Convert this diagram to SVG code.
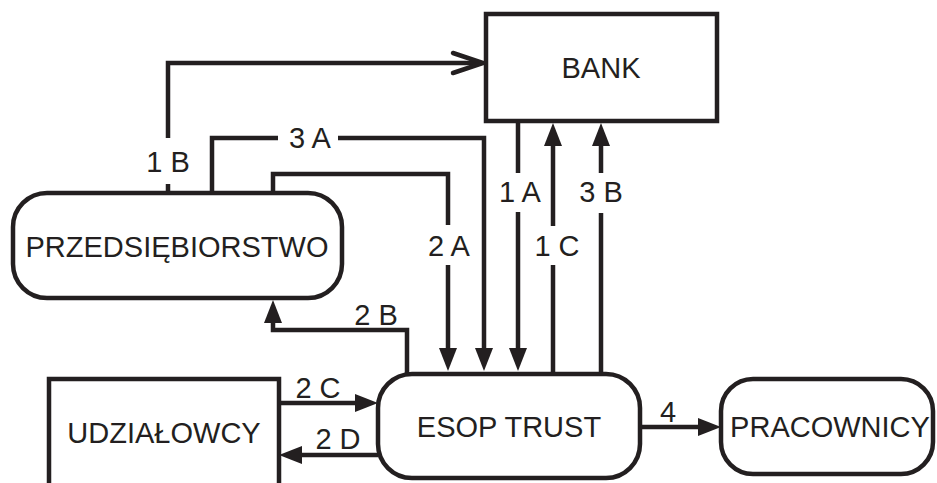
<svg xmlns="http://www.w3.org/2000/svg" width="937" height="483" viewBox="0 0 937 483">
<defs>
<style>
.node{fill:#fff;stroke:#231f20;stroke-width:4.5}
.lbl{font-family:"Liberation Sans",Arial,sans-serif;font-size:29px;fill:#231f20;text-anchor:middle}
.el{font-family:"Liberation Sans",Arial,sans-serif;font-size:29px;fill:#231f20;text-anchor:middle}
.c{fill:none;stroke:#231f20;stroke-width:4.5;stroke-linejoin:miter}
</style>
<marker id="ah" markerUnits="userSpaceOnUse" markerWidth="24" markerHeight="20" refX="0" refY="9" orient="auto" viewBox="0 0 24 18" overflow="visible">
<path d="M0,0 L23,9 L0,18 z" fill="#231f20"/>
</marker>
</defs>
<rect width="937" height="483" fill="#fff"/>
<g id="connectors">
<path class="c" d="M168,193 V184 M168,138 V63 H481"/>
<polyline class="c" points="453,53 483,63 453,73" stroke-linecap="round" stroke-linejoin="round"/>
<path class="c" d="M212,193 V138 H278 M338,138 H484 V348" marker-end="url(#ah)"/>
<path class="c" d="M273,193 V174 H448 V225 M448,265 V348" marker-end="url(#ah)"/>
<path class="c" d="M518,121 V173 M518,212 V348" marker-end="url(#ah)"/>
<path class="c" d="M553,374 V265 M553,226 V146" marker-end="url(#ah)"/>
<path class="c" d="M601,374 V213 M601,173 V146" marker-end="url(#ah)"/>
<path class="c" d="M407,374 V330 H273 V323" marker-end="url(#ah)"/>
<path class="c" d="M279,403 H355" marker-end="url(#ah)"/>
<path class="c" d="M378,455 H302" marker-end="url(#ah)"/>
<path class="c" d="M640,427 H698" marker-end="url(#ah)"/>
<text class="el" x="168" y="172">1 B</text>
<text class="el" x="310" y="148">3 A</text>
<text class="el" x="449" y="256">2 A</text>
<text class="el" x="520" y="202">1 A</text>
<text class="el" x="557" y="256">1 C</text>
<text class="el" x="601" y="202">3 B</text>
<text class="el" x="376" y="325">2 B</text>
<text class="el" x="318" y="398">2 C</text>
<text class="el" x="338" y="449">2 D</text>
<text class="el" x="668" y="422">4</text>
</g>
<g id="bank">
<rect class="node" x="486" y="14" width="231" height="107"/>
<text class="lbl" x="601" y="78">BANK</text>
</g>
<g id="przedsiebiorstwo">
<rect class="node" x="13" y="193" width="329" height="105" rx="34" ry="34"/>
<text class="lbl" x="177" y="257">PRZEDSIĘBIORSTWO</text>
</g>
<g id="esop">
<rect class="node" x="378" y="374" width="262" height="104" rx="34" ry="34"/>
<text class="lbl" x="509" y="437">ESOP TRUST</text>
</g>
<g id="udzialowcy">
<rect class="node" x="49" y="379" width="230" height="130"/>
<text class="lbl" x="164" y="443">UDZIAŁOWCY</text>
</g>
<g id="pracownicy">
<rect class="node" x="721" y="379" width="212" height="95" rx="32" ry="32"/>
<text class="lbl" x="830" y="437">PRACOWNICY</text>
</g>
</svg>
